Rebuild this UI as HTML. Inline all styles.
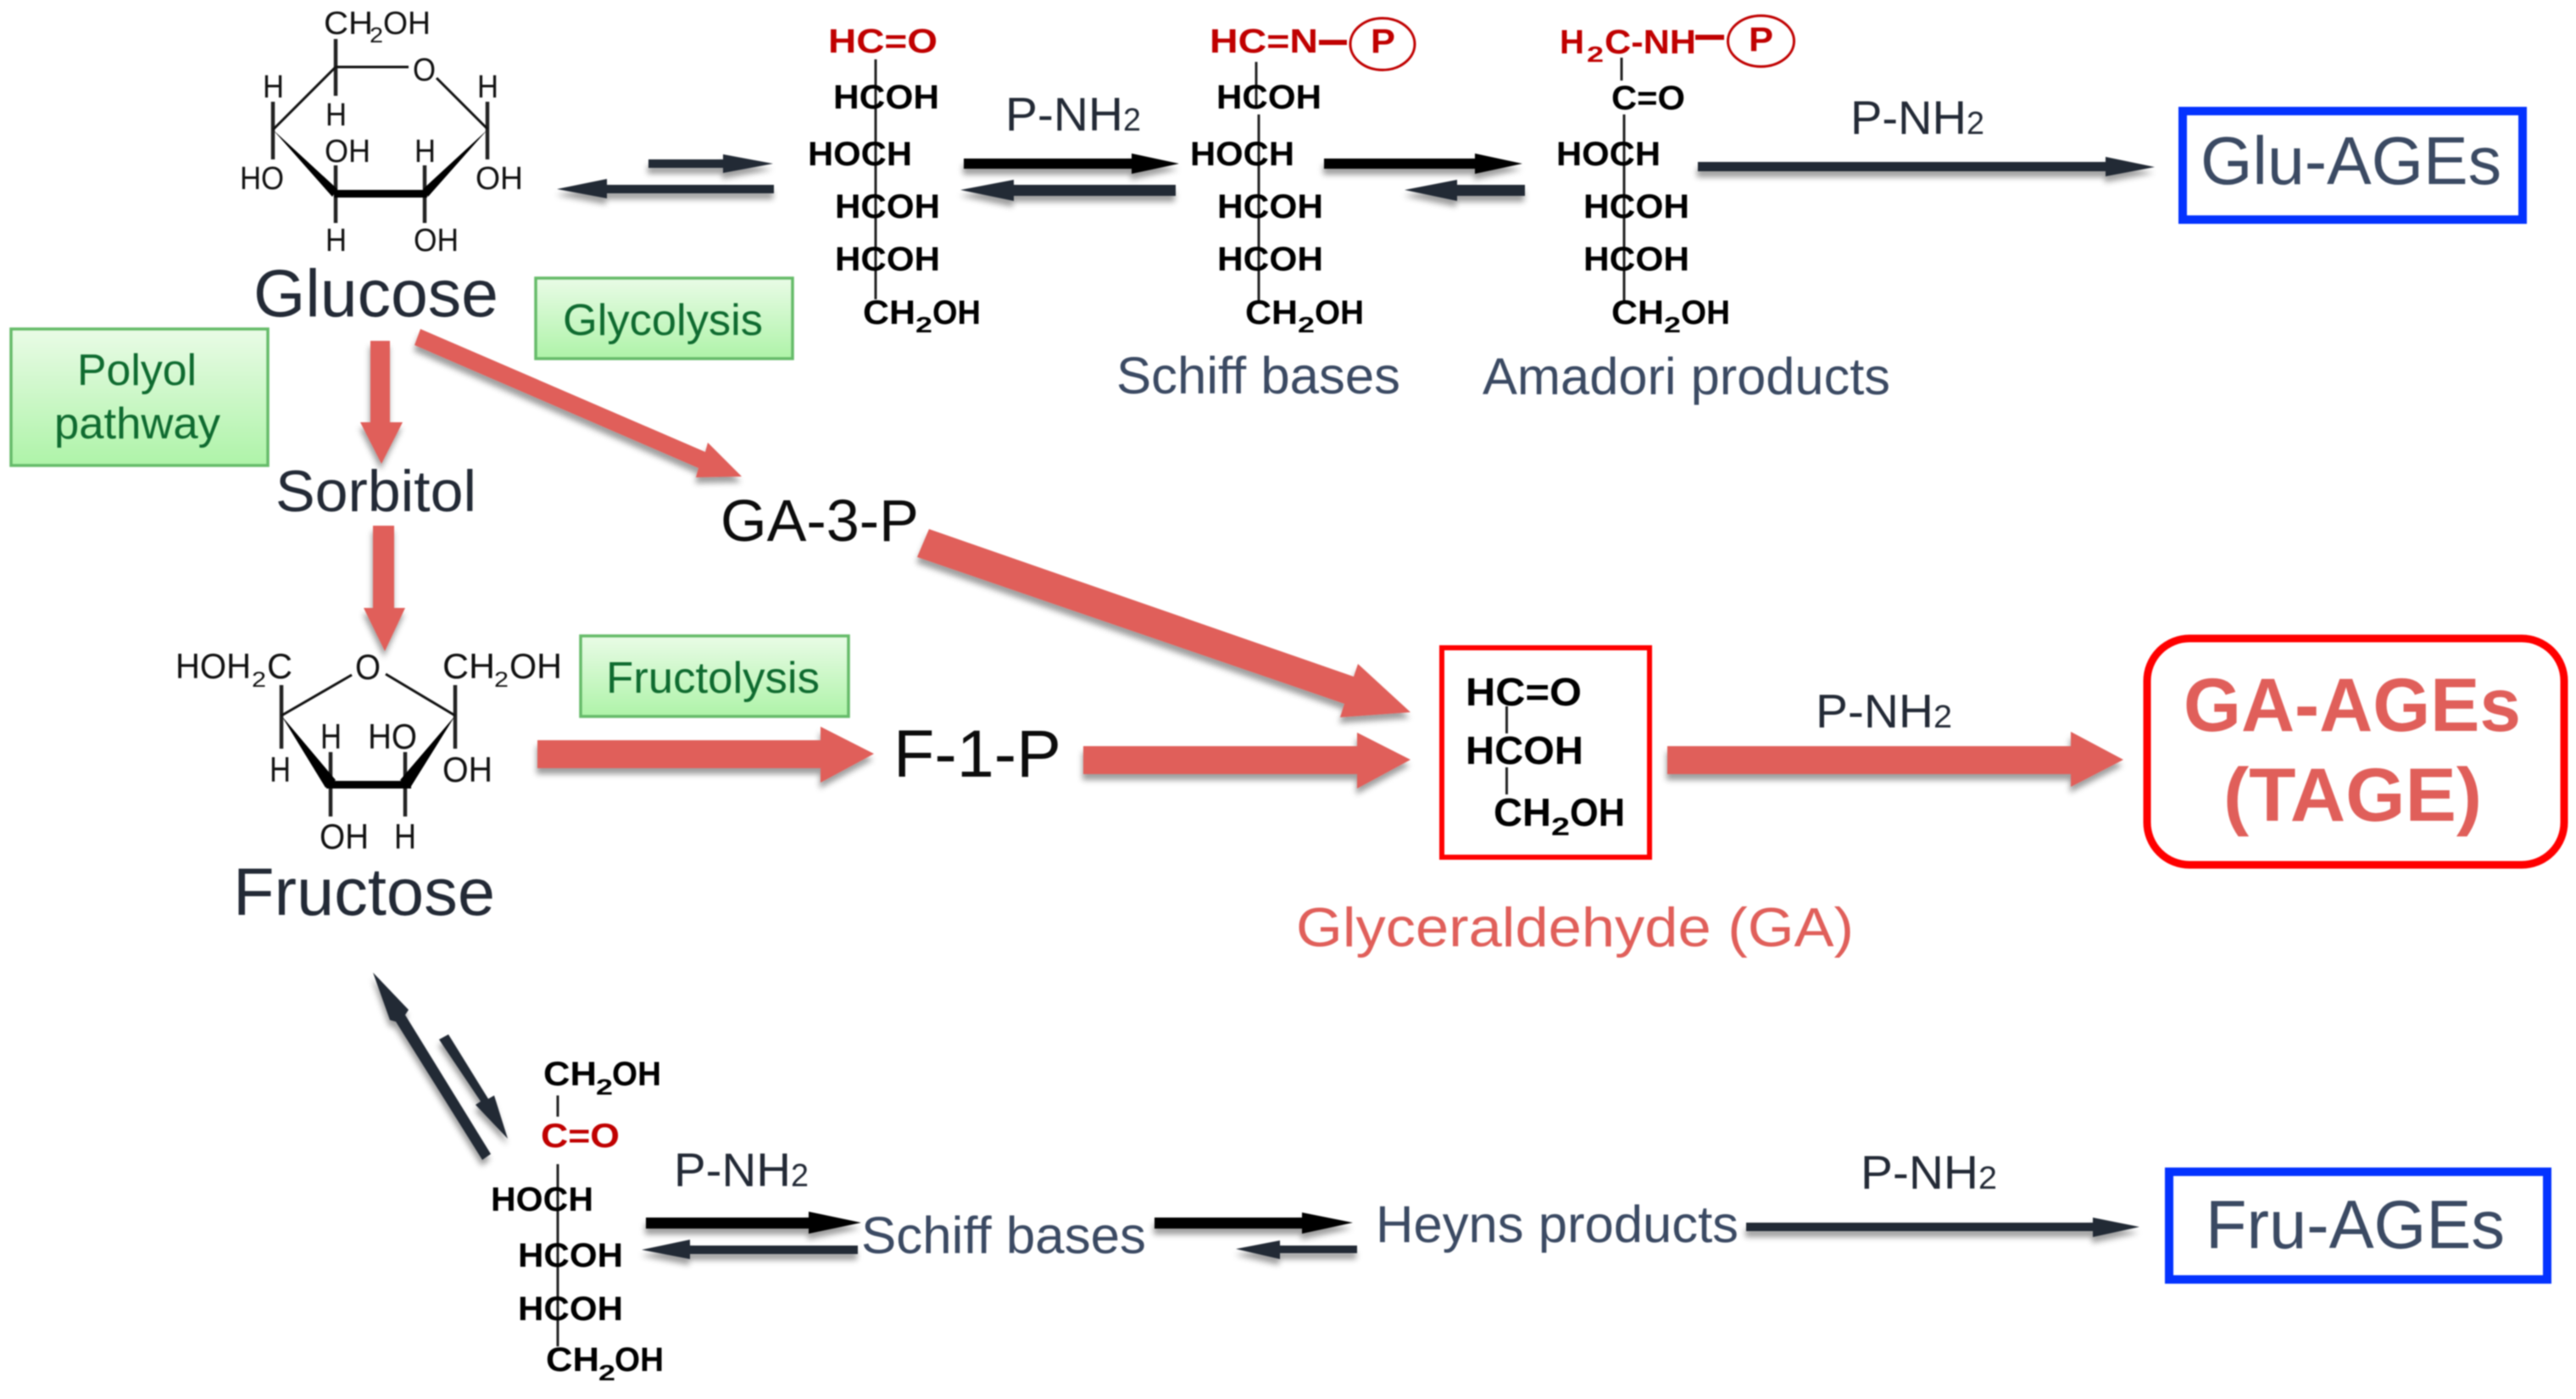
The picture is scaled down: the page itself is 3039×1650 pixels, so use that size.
<!DOCTYPE html>
<html>
<head>
<meta charset="utf-8">
<style>
html,body{margin:0;padding:0;background:#fff;width:3039px;height:1650px;overflow:hidden}
svg{display:block;filter:blur(.7px)}
text{font-family:"Liberation Sans",Arial,sans-serif;white-space:pre}
.r{fill:#111;font-size:38px}
.f{fill:#111;font-size:42px}
.s{fill:#111;font-size:25px}
.b{fill:#000;font-size:40px;font-weight:bold}
.bs{fill:#000;font-size:26px;font-weight:bold}
.rd{fill:#c00000;font-size:40px;font-weight:bold}
.rds{fill:#c00000;font-size:26px;font-weight:bold}
.d{fill:#232a36}
.sl{fill:#3b4a63}
.gr{fill:#0f6b30;font-size:52px}
.pn{fill:#232a36;font-size:56px}
.pn2{fill:#232a36;font-size:38px}
.red{fill:#e05f5a}
.aD{fill:#232a36;filter:url(#sh)}
.aK{fill:#000;filter:url(#sh)}
.aR{fill:#e05f5a;filter:url(#sh)}
.l{stroke:#111;stroke-width:3;fill:none}
.v{stroke:#222;stroke-width:4.5;fill:none}
.t{stroke:#222;stroke-width:3;fill:none}
</style>
</head>
<body>
<svg width="3039" height="1650" viewBox="0 0 3039 1650" xmlns="http://www.w3.org/2000/svg">
<defs>
<filter id="sh" x="-20%" y="-60%" width="140%" height="260%">
<feDropShadow dx="-1" dy="7" stdDeviation="3.5" flood-color="#000" flood-opacity=".38"/>
</filter>
<linearGradient id="g" x1="0" y1="0" x2="0" y2="1">
<stop offset="0" stop-color="#e9fbe6"/><stop offset="1" stop-color="#aef3a8"/>
</linearGradient>
</defs>

<!-- Glucose ring -->
<g>
<text class="r" x="382" y="40" textLength="58" lengthAdjust="spacingAndGlyphs">CH</text>
<text class="s" x="436" y="50" textLength="16" lengthAdjust="spacingAndGlyphs">2</text>
<text class="r" x="452" y="40" textLength="56" lengthAdjust="spacingAndGlyphs">OH</text>
<path class="v" d="M396 46V113M322 120V188M575 120V188M396 195V263M501 195V263"/>
<path class="l" stroke-width="3" d="M396 79H482M515 92L575 152M322 153L396 79"/>
<polygon points="322,153 398,223 392,232" fill="#000"/>
<polygon points="575,153 499,223 505,232" fill="#000"/>
<rect x="394" y="224" width="110" height="9" fill="#000"/>
<text class="r" x="487" y="95" textLength="27" lengthAdjust="spacingAndGlyphs">O</text>
<text class="r" x="310" y="115" textLength="25" lengthAdjust="spacingAndGlyphs">H</text>
<text class="r" x="563" y="115" textLength="25" lengthAdjust="spacingAndGlyphs">H</text>
<text class="r" x="384" y="148" textLength="25" lengthAdjust="spacingAndGlyphs">H</text>
<text class="r" x="283" y="223" textLength="52" lengthAdjust="spacingAndGlyphs">HO</text>
<text class="r" x="561" y="223" textLength="56" lengthAdjust="spacingAndGlyphs">OH</text>
<text class="r" x="383" y="191" textLength="54" lengthAdjust="spacingAndGlyphs">OH</text>
<text class="r" x="489" y="191" textLength="25" lengthAdjust="spacingAndGlyphs">H</text>
<text class="r" x="384" y="296" textLength="25" lengthAdjust="spacingAndGlyphs">H</text>
<text class="r" x="488" y="296" textLength="53" lengthAdjust="spacingAndGlyphs">OH</text>
</g>
<text class="d" x="299" y="373" font-size="79" textLength="289" lengthAdjust="spacingAndGlyphs">Glucose</text>

<!-- Green boxes -->
<rect x="13" y="388" width="303" height="161" fill="url(#g)" stroke="#66bb6a" stroke-width="3.5"/>
<text class="gr" x="91" y="454" textLength="141" lengthAdjust="spacingAndGlyphs">Polyol</text>
<text class="gr" x="64" y="517" textLength="196" lengthAdjust="spacingAndGlyphs">pathway</text>
<rect x="632" y="328" width="303" height="95" fill="url(#g)" stroke="#66bb6a" stroke-width="3.5"/>
<text class="gr" x="664" y="395" textLength="236" lengthAdjust="spacingAndGlyphs">Glycolysis</text>
<rect x="685" y="750" width="316" height="95" fill="url(#g)" stroke="#66bb6a" stroke-width="3.5"/>
<text class="gr" x="715" y="817" textLength="252" lengthAdjust="spacingAndGlyphs">Fructolysis</text>

<!-- Top-left arrows -->
<polygon class="aD" points="765,188 853,188 853,182 912,193 853,204 853,198 765,198"/>
<polygon class="aD" points="913,218 716,218 716,211 657,223 716,234 716,228 913,228"/>

<!-- Chain 1 -->
<path class="t" d="M1033 70V353"/>
<text class="rd" x="977" y="62" textLength="129" lengthAdjust="spacingAndGlyphs">HC=O</text>
<text class="b" x="983" y="128" textLength="125" lengthAdjust="spacingAndGlyphs">HCOH</text>
<text class="b" x="953" y="195" textLength="123" lengthAdjust="spacingAndGlyphs">HOCH</text>
<text class="b" x="985" y="257" textLength="124" lengthAdjust="spacingAndGlyphs">HCOH</text>
<text class="b" x="985" y="319" textLength="124" lengthAdjust="spacingAndGlyphs">HCOH</text>
<text class="b" x="1018" y="382" textLength="62" lengthAdjust="spacingAndGlyphs">CH</text>
<text class="bs" x="1080" y="392" textLength="20" lengthAdjust="spacingAndGlyphs">2</text>
<text class="b" x="1100" y="382" textLength="57" lengthAdjust="spacingAndGlyphs">OH</text>

<!-- Arrows 1 -->
<text class="pn" x="1186" y="154" textLength="139" lengthAdjust="spacingAndGlyphs">P-NH</text>
<text class="pn2" x="1325" y="154" textLength="21" lengthAdjust="spacingAndGlyphs">2</text>
<polygon class="aK" points="1137,187 1335,187 1335,181 1391,193 1335,205 1335,199 1137,199"/>
<polygon class="aD" points="1387,218 1196,218 1196,212 1133,224 1196,237 1196,231 1387,231"/>

<!-- Chain 2 -->
<path class="t" d="M1482 73V125M1485 135V355"/>
<text class="rd" x="1427" y="62" textLength="128" lengthAdjust="spacingAndGlyphs">HC=N</text>
<path d="M1556 50H1589" stroke="#c00000" stroke-width="6"/>
<ellipse cx="1631" cy="52" rx="38" ry="30.5" fill="none" stroke="#c00000" stroke-width="3"/>
<text class="rd" x="1617" y="62" textLength="29" lengthAdjust="spacingAndGlyphs">P</text>
<text class="b" x="1435" y="128" textLength="124" lengthAdjust="spacingAndGlyphs">HCOH</text>
<text class="b" x="1404" y="195" textLength="123" lengthAdjust="spacingAndGlyphs">HOCH</text>
<text class="b" x="1436" y="257" textLength="125" lengthAdjust="spacingAndGlyphs">HCOH</text>
<text class="b" x="1436" y="319" textLength="125" lengthAdjust="spacingAndGlyphs">HCOH</text>
<text class="b" x="1469" y="382" textLength="62" lengthAdjust="spacingAndGlyphs">CH</text>
<text class="bs" x="1531" y="392" textLength="20" lengthAdjust="spacingAndGlyphs">2</text>
<text class="b" x="1551" y="382" textLength="58" lengthAdjust="spacingAndGlyphs">OH</text>

<!-- Arrows 2 -->
<polygon class="aK" points="1562,187 1740,187 1740,181 1796,193 1740,205 1740,199 1562,199"/>
<polygon class="aD" points="1799,218 1719,218 1719,212 1657,224 1719,237 1719,231 1799,231"/>

<!-- Chain 3 -->
<path class="t" d="M1913 68V95M1916 135V355"/>
<text class="rd" x="1840" y="63" textLength="29" lengthAdjust="spacingAndGlyphs">H</text>
<text class="rds" x="1872" y="73" textLength="20" lengthAdjust="spacingAndGlyphs">2</text>
<text class="rd" x="1893" y="63" textLength="108" lengthAdjust="spacingAndGlyphs">C-NH</text>
<path d="M2000 44H2034" stroke="#c00000" stroke-width="6"/>
<ellipse cx="2077.5" cy="48.5" rx="39" ry="30" fill="none" stroke="#c00000" stroke-width="3"/>
<text class="rd" x="2063" y="60" textLength="29" lengthAdjust="spacingAndGlyphs">P</text>
<text class="b" x="1901" y="129" textLength="87" lengthAdjust="spacingAndGlyphs">C=O</text>
<text class="b" x="1836" y="195" textLength="123" lengthAdjust="spacingAndGlyphs">HOCH</text>
<text class="b" x="1868" y="257" textLength="125" lengthAdjust="spacingAndGlyphs">HCOH</text>
<text class="b" x="1868" y="319" textLength="125" lengthAdjust="spacingAndGlyphs">HCOH</text>
<text class="b" x="1901" y="382" textLength="62" lengthAdjust="spacingAndGlyphs">CH</text>
<text class="bs" x="1963" y="392" textLength="20" lengthAdjust="spacingAndGlyphs">2</text>
<text class="b" x="1983" y="382" textLength="58" lengthAdjust="spacingAndGlyphs">OH</text>

<text class="sl" x="1317" y="464" font-size="61" textLength="335" lengthAdjust="spacingAndGlyphs">Schiff bases</text>
<text class="sl" x="1749" y="465" font-size="61" textLength="481" lengthAdjust="spacingAndGlyphs">Amadori products</text>

<!-- Glu AGEs -->
<text class="pn" x="2183" y="158" textLength="137" lengthAdjust="spacingAndGlyphs">P-NH</text>
<text class="pn2" x="2320" y="158" textLength="21" lengthAdjust="spacingAndGlyphs">2</text>
<polygon class="aD" points="2003,191 2484,191 2484,185 2542,197 2484,208 2484,202 2003,202"/>
<rect x="2575" y="131" width="401" height="128" fill="#fff" stroke="#0433ff" stroke-width="10"/>
<text class="sl" x="2596" y="217" font-size="80" textLength="355" lengthAdjust="spacingAndGlyphs">Glu-AGEs</text>

<!-- Red arrows left -->
<polygon class="aR" points="437,402 460,402 460,498 475,498 450,547 425,498 437,498"/>
<text class="d" x="325" y="603" font-size="69" textLength="237" lengthAdjust="spacingAndGlyphs">Sorbitol</text>
<polygon class="aR" points="440,620 465,620 465,717 478,717 454,768 429,717 440,717"/>
<polygon class="aR" points="496,388 832,533 835,522 875,562 821,563 824,552 489,407"/>
<text x="850" y="638" fill="#0c0c0c" font-size="70" textLength="234" lengthAdjust="spacingAndGlyphs">GA-3-P</text>
<polygon class="aR" points="1096,624 1597,798 1602,783 1664,840 1581,846 1586,830 1082,657"/>

<!-- Fructose ring -->
<g>
<path class="v" d="M332 808V883M537 808V883M390 887V963M478 887V963"/>
<path class="l" stroke-width="3" d="M332 844L415 796M455 795L537 844"/>
<polygon points="332,844 396,920 384,929" fill="#000"/>
<polygon points="537,844 472,920 484,929" fill="#000"/>
<rect x="385" y="921" width="100" height="9" fill="#000"/>
<text class="f" x="207" y="800" textLength="89" lengthAdjust="spacingAndGlyphs">HOH</text>
<text class="s" x="297" y="810" textLength="17" lengthAdjust="spacingAndGlyphs">2</text>
<text class="f" x="315" y="800" textLength="30" lengthAdjust="spacingAndGlyphs">C</text>
<text class="f" x="419" y="801" textLength="30" lengthAdjust="spacingAndGlyphs">O</text>
<text class="f" x="522" y="800" textLength="62" lengthAdjust="spacingAndGlyphs">CH</text>
<text class="s" x="583" y="810" textLength="17" lengthAdjust="spacingAndGlyphs">2</text>
<text class="f" x="601" y="800" textLength="62" lengthAdjust="spacingAndGlyphs">OH</text>
<text class="f" x="378" y="883" textLength="25" lengthAdjust="spacingAndGlyphs">H</text>
<text class="f" x="434" y="883" textLength="58" lengthAdjust="spacingAndGlyphs">HO</text>
<text class="f" x="318" y="922" textLength="25" lengthAdjust="spacingAndGlyphs">H</text>
<text class="f" x="522" y="922" textLength="59" lengthAdjust="spacingAndGlyphs">OH</text>
<text class="f" x="377" y="1001" textLength="58" lengthAdjust="spacingAndGlyphs">OH</text>
<text class="f" x="465" y="1001" textLength="26" lengthAdjust="spacingAndGlyphs">H</text>
</g>
<text class="d" x="275" y="1079" font-size="79" textLength="309" lengthAdjust="spacingAndGlyphs">Fructose</text>

<!-- Middle row -->
<polygon class="aR" points="634,873 968,873 968,857 1031,889 968,923 968,906 634,906"/>
<text x="1054" y="916" fill="#0c0c0c" font-size="79" textLength="198" lengthAdjust="spacingAndGlyphs">F-1-P</text>
<polygon class="aR" points="1278,880 1601,880 1601,864 1664,896 1601,930 1601,913 1278,913"/>

<rect x="1701" y="764" width="245" height="247" fill="#fff" stroke="#ff0000" stroke-width="6"/>
<path class="t" d="M1777.5 833V865M1777.5 905V937"/>
<text class="b" x="1729" y="832" style="font-size:46px" textLength="137" lengthAdjust="spacingAndGlyphs">HC=O</text>
<text class="b" x="1729" y="901" style="font-size:46px" textLength="139" lengthAdjust="spacingAndGlyphs">HCOH</text>
<text class="b" x="1762" y="974" style="font-size:46px" textLength="68" lengthAdjust="spacingAndGlyphs">CH</text>
<text class="bs" x="1830" y="985" style="font-size:30px" textLength="22" lengthAdjust="spacingAndGlyphs">2</text>
<text class="b" x="1852" y="974" style="font-size:46px" textLength="65" lengthAdjust="spacingAndGlyphs">OH</text>

<text class="pn" x="2142" y="858" textLength="139" lengthAdjust="spacingAndGlyphs">P-NH</text>
<text class="pn2" x="2281" y="858" textLength="22" lengthAdjust="spacingAndGlyphs">2</text>
<polygon class="aR" points="1967,880 2443,880 2443,863 2505,896 2443,928 2443,913 1967,913"/>
<text class="red" x="1529" y="1116" font-size="65" textLength="658" lengthAdjust="spacingAndGlyphs">Glyceraldehyde (GA)</text>

<rect x="2533" y="753" width="492" height="267" rx="50" ry="50" fill="#fff" stroke="#ff0000" stroke-width="9"/>
<text class="red" x="2576" y="862" font-size="89" font-weight="bold" textLength="398" lengthAdjust="spacingAndGlyphs">GA-AGEs</text>
<text class="red" x="2623" y="968" font-size="89" font-weight="bold" textLength="305" lengthAdjust="spacingAndGlyphs">(TAGE)</text>

<!-- Bottom arrows -->
<polygon class="aD" points="440,1147 482,1191 478,1197 579,1361 569,1368 467,1205 460,1203"/>
<polygon class="aD" points="529,1220 576,1296 583,1292 599,1343 561,1303 567,1299 518,1226"/>

<!-- Bottom chain -->
<path class="t" d="M658 1292V1317M658 1373V1588"/>
<text class="b" x="641" y="1280" textLength="63" lengthAdjust="spacingAndGlyphs">CH</text>
<text class="bs" x="703" y="1291" textLength="20" lengthAdjust="spacingAndGlyphs">2</text>
<text class="b" x="722" y="1280" textLength="58" lengthAdjust="spacingAndGlyphs">OH</text>
<text class="rd" x="638" y="1353" textLength="93" lengthAdjust="spacingAndGlyphs">C=O</text>
<text class="b" x="579" y="1428" textLength="121" lengthAdjust="spacingAndGlyphs">HOCH</text>
<text class="b" x="611" y="1494" textLength="124" lengthAdjust="spacingAndGlyphs">HCOH</text>
<text class="b" x="611" y="1557" textLength="124" lengthAdjust="spacingAndGlyphs">HCOH</text>
<text class="b" x="644" y="1617" textLength="63" lengthAdjust="spacingAndGlyphs">CH</text>
<text class="bs" x="706" y="1628" textLength="20" lengthAdjust="spacingAndGlyphs">2</text>
<text class="b" x="725" y="1617" textLength="58" lengthAdjust="spacingAndGlyphs">OH</text>

<text class="pn" x="795" y="1399" textLength="138" lengthAdjust="spacingAndGlyphs">P-NH</text>
<text class="pn2" x="933" y="1399" textLength="21" lengthAdjust="spacingAndGlyphs">2</text>
<polygon class="aK" points="762,1436 954,1436 954,1429 1016,1442 954,1455 954,1449 762,1449"/>
<polygon class="aD" points="1012,1469 814,1469 814,1462 757,1474 814,1485 814,1479 1012,1479"/>
<text class="sl" x="1016" y="1478" font-size="61" textLength="336" lengthAdjust="spacingAndGlyphs">Schiff bases</text>
<polygon class="aK" points="1362,1436 1536,1436 1536,1430 1596,1442 1536,1455 1536,1449 1362,1449"/>
<polygon class="aD" points="1601,1469 1510,1469 1510,1463 1458,1473 1510,1485 1510,1478 1601,1478"/>
<text class="sl" x="1623" y="1465" font-size="61" textLength="428" lengthAdjust="spacingAndGlyphs">Heyns products</text>
<text class="pn" x="2195" y="1402" textLength="139" lengthAdjust="spacingAndGlyphs">P-NH</text>
<text class="pn2" x="2334" y="1402" textLength="22" lengthAdjust="spacingAndGlyphs">2</text>
<polygon class="aD" points="2060,1442 2469,1442 2469,1436 2524,1447 2469,1459 2469,1452 2060,1452"/>
<rect x="2559" y="1382" width="446" height="127" fill="#fff" stroke="#0433ff" stroke-width="10"/>
<text class="sl" x="2602" y="1472" font-size="81" textLength="353" lengthAdjust="spacingAndGlyphs">Fru-AGEs</text>
</svg>
</body>
</html>
